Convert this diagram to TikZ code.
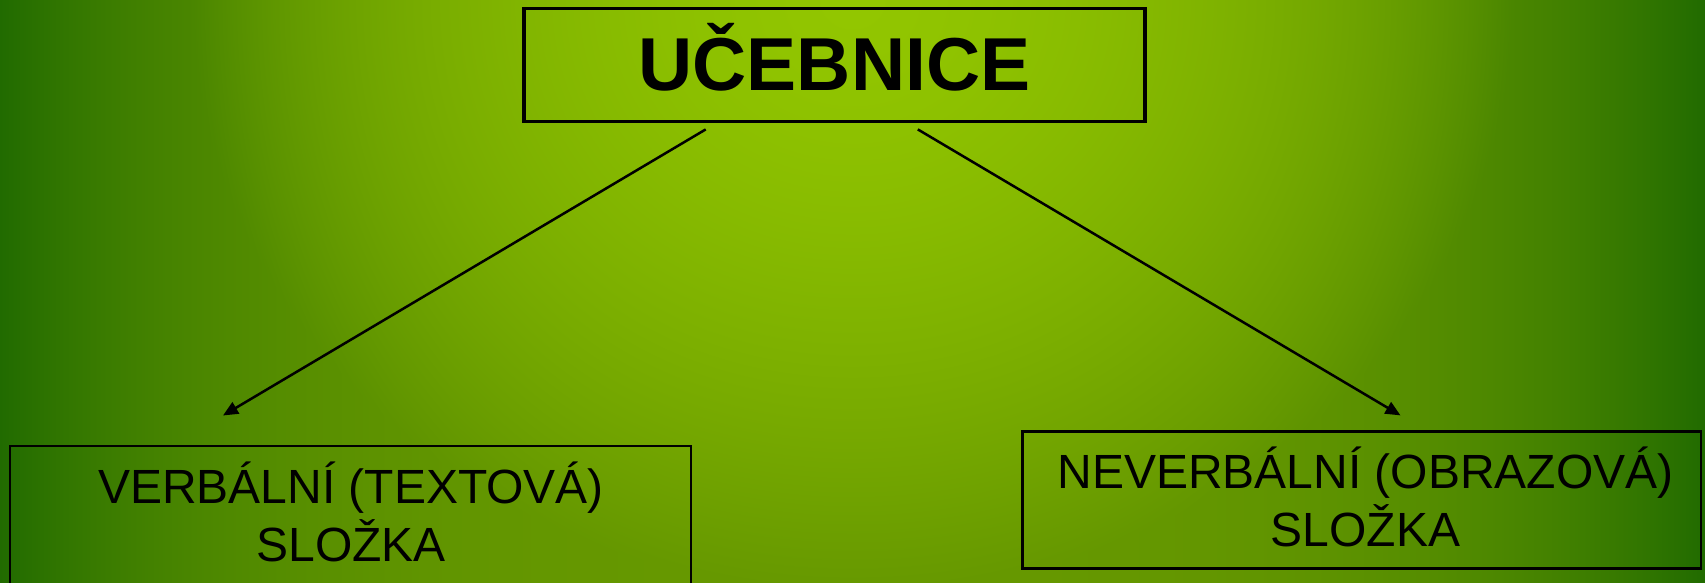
\documentclass[tikz,border=0pt]{standalone}
\usepackage{fontspec}
\setmainfont{Liberation Sans}
\usetikzlibrary{arrows.meta}
\pgfdeclarefunctionalshading{bgfun}{\pgfpointorigin}{\pgfpoint{100bp}{100bp}}{}{
  75 exch sub 11.66 mul
  exch 25 sub 34.1 mul 852.5 sub abs
  dup 852.5 div 3.5 exp
  3 1 roll
  660 div dup mul exch 590 div dup mul add sqrt
  1.5 exp 1 exch sub dup 0 lt {pop 0} if
  1 index 69 mul 102 exch sub
  1 index 1 exch sub mul
  1 index 146 mul add 255 div
  3 1 roll
  exch 45 mul 152 exch sub
  1 index 1 exch sub mul
  exch 198 mul add 255 div
  0
}
\tikzset{
  bigbox/.style={draw=black, line width=3.3pt, inner sep=0pt, outer sep=0pt},
  smallbox/.style={draw=black, line width=2.5pt, inner sep=0pt, outer sep=0pt},
  titletext/.style={inner sep=0pt, anchor=base, font=\fontsize{75}{80}\selectfont\bfseries},
  bodytext/.style={inner sep=0pt, anchor=base, align=center, font=\fontsize{48}{58}\selectfont},
  arr/.style={line width=2.5pt, -{Triangle[length=15pt,width=13pt]}}
}
\begin{document}
\begin{tikzpicture}[x=1pt,y=-1pt]
\useasboundingbox (0,0) rectangle (1705,583);
\clip (0,0) rectangle (1705,583);
\shade[shading=bgfun] (0,0) rectangle (1705,583);

\node[bigbox, minimum width=621pt, minimum height=113.4pt] (top) at (834.5,65) {};
\node[titletext] (toptext) at (834.5,90.7) {UČEBNICE};

\node[smallbox, minimum width=681pt, minimum height=200pt, anchor=north west] (lbox) at (10,446) {};
\node[bodytext] (ltext) at (351,561) {VERBÁLNÍ (TEXTOVÁ)\\SLOŽKA};

\node[smallbox, minimum width=678.5pt, minimum height=137pt] (rbox) at (1361.75,500.2) {};
\node[bodytext] (rtext) at (1365.5,546) {NEVERBÁLNÍ (OBRAZOVÁ)\\SLOŽKA};

\coordinate (a1) at (705.7,129.4);
\coordinate (a2) at (223,415.5);
\coordinate (b1) at (917.8,129.4);
\coordinate (b2) at (1400.5,415.4);
\draw[arr] (a1) -- (a2);
\draw[arr] (b1) -- (b2);
\end{tikzpicture}
\end{document}
